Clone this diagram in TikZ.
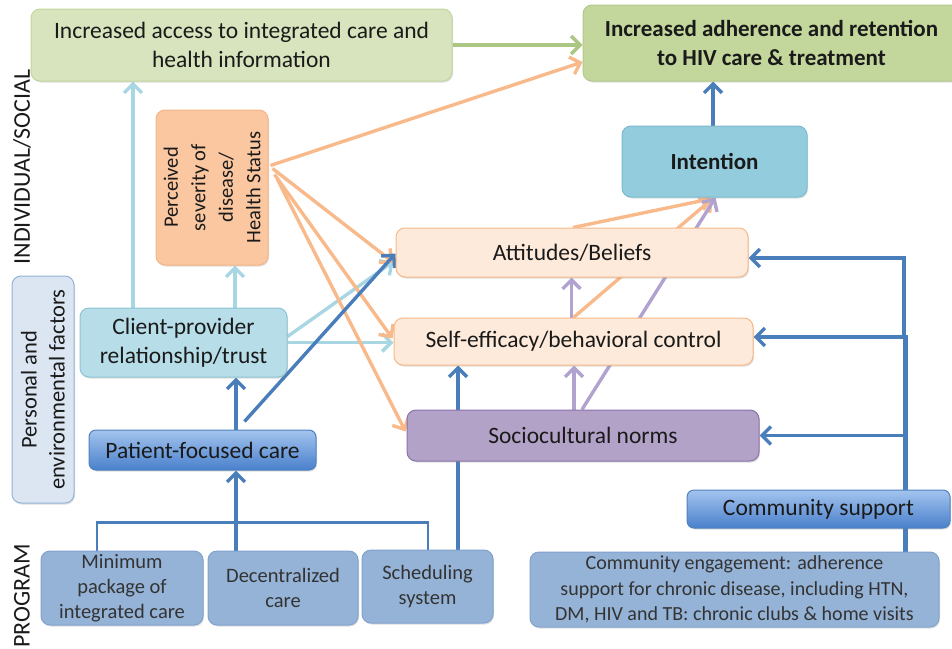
\documentclass[tikz,border=0pt]{standalone}
\usepackage{fontspec}
\setmainfont{Carlito}
\usetikzlibrary{arrows.meta,calc,shadows,backgrounds}
\definecolor{txt}{HTML}{1A1A1A}
\definecolor{accf}{HTML}{D7E4BD}
\definecolor{accd}{HTML}{C2D69E}
\definecolor{adhf}{HTML}{C3D69B}
\definecolor{adhd}{HTML}{B3C98C}
\definecolor{perf}{HTML}{FBC7A0}
\definecolor{perd}{HTML}{F5B488}
\definecolor{intf}{HTML}{93CDDD}
\definecolor{intd}{HTML}{7DBACD}
\definecolor{attf}{HTML}{FDEADA}
\definecolor{attd}{HTML}{F8B888}
\definecolor{socf}{HTML}{B3A2C7}
\definecolor{socd}{HTML}{8A72AA}
\definecolor{clif}{HTML}{B7DEE8}
\definecolor{clid}{HTML}{8CC3D5}
\definecolor{pef}{HTML}{DCE6F2}
\definecolor{ped}{HTML}{95B3D7}
\definecolor{prgf}{HTML}{95B3D7}
\definecolor{prgd}{HTML}{80A2CF}
\definecolor{gtop}{HTML}{A3C4EE}
\definecolor{gbot}{HTML}{4A80CC}
\definecolor{gdraw}{HTML}{4F81BD}
\definecolor{lbc}{HTML}{A8D6E3}
\definecolor{dbc}{HTML}{4A7EBB}
\definecolor{orc}{HTML}{F8BA8A}
\definecolor{puc}{HTML}{B1A2D0}
\definecolor{grc}{HTML}{ABC783}
\begin{document}
\begin{tikzpicture}[x=1pt,y=-1pt,
  box/.style={draw, line width=1pt, rounded corners=9pt, align=center, inner sep=1pt, text=txt,
    font=\fontsize{23.5}{29}\selectfont,
    drop shadow={shadow xshift=1pt, shadow yshift=-1.5pt, opacity=0.25}},
  prog/.style={box, fill=prgf, draw=prgd, text=black!80, font=\fontsize{20.5}{25}\selectfont},
  grad/.style={box, top color=gtop, bottom color=gbot, draw=gdraw, rounded corners=7pt},
  bfont/.style={font=\fontsize{23}{28.5}\selectfont\bfseries},
  lab/.style={rotate=90, text=txt, font=\fontsize{24}{28}\selectfont},
  arr/.style={line width=3.4pt, -{Straight Barb[length=9pt,width=18pt]}},
  lb/.style={arr, draw=lbc},
  db/.style={arr, draw=dbc},
  oa/.style={arr, draw=orc},
  pa/.style={arr, draw=puc},
  ga/.style={arr, draw=grc}]
\useasboundingbox (0,0) rectangle (952,648);

% nodes
\node[box, fill=accf, draw=accd, minimum width=421pt, minimum height=72pt] (access) at (241.5,45)
  {Increased access to integrated care and\\health information};
\node[box, bfont, fill=adhf, draw=adhd, minimum width=377pt, minimum height=76pt] (adh) at (771.5,43)
  {Increased adherence and retention\\to HIV care \& treatment};
\node[box, rotate=90, fill=perf, draw=perd, minimum width=155pt, minimum height=112pt,
  font=\fontsize{20.5}{27.5}\selectfont] (perceived) at (212,187.5)
  {Perceived\\severity of\\disease/\\Health Status};
\node[box, bfont, fill=intf, draw=intd, minimum width=185pt, minimum height=71pt] (intention) at (714.5,161.5) {Intention};
\node[box, fill=attf, draw=attd, minimum width=352pt, minimum height=49pt] (att) at (572,252.5) {Attitudes/Beliefs};
\node[box, fill=attf, draw=attd, minimum width=359pt, minimum height=47pt] (self) at (573.5,341.5) {Self-efficacy/behavioral control};
\node[box, fill=socf, draw=socd, minimum width=352pt, minimum height=51pt] (socio) at (583,435.5) {Sociocultural norms};
\node[box, fill=clif, draw=clid, minimum width=207pt, minimum height=69pt] (client) at (183.5,342.5) {Client-provider\\relationship/trust};
\node[grad, minimum width=227pt, minimum height=40pt] (patient) at (202.5,450) {Patient-focused care};
\node[box, rotate=90, fill=pef, draw=ped, minimum width=227pt, minimum height=62pt,
  font=\fontsize{22.5}{28}\selectfont] (personal) at (43,389.5) {Personal and\\environmental factors};
\node[prog, minimum width=162pt, minimum height=74pt] (minimum) at (122,588) {Minimum\\package of\\integrated care};
\node[prog, minimum width=150pt, minimum height=74pt] (decent) at (283,588) {Decentralized\\care};
\node[prog, minimum width=131pt, minimum height=73pt] (sched) at (427.5,586.5) {Scheduling\\system};
\node[prog, minimum width=409pt, minimum height=75pt, font=\fontsize{20}{25.5}\selectfont] (commeng) at (734.5,589.5)
  {Community engagement: adherence\\support for chronic disease, including HTN,\\DM, HIV and TB: chronic clubs \& home visits};
\node[grad, minimum width=263pt, minimum height=38pt] (commsup) at (818.5,509) {Community support};
\node[lab] (indiv) at (22,167) {INDIVIDUAL/SOCIAL};
\node[lab] (program) at (22,596) {PROGRAM};

% helper coordinates
\coordinate (c1) at ($(client.north)+(-50.5,0)$);
\coordinate (c2) at ($(client.north)+(51.5,0)$);
\coordinate (c6) at ($(decent.north)+(-47,0)$);
\coordinate (c7) at ($(patient.north)+(33.5,0)$);
\coordinate (c8) at ($(sched.north)+(30.5,0)$);
\coordinate (c9) at ($(intention.north)+(-1.5,0)$);
\coordinate (c19) at ($(socio.north)+(-9,0)$);
\coordinate (c20) at ($(self.north)+(-2,0)$);
\coordinate (bL) at ($(minimum.north)+(-25,0)$);
\coordinate (bR) at ($(sched.north)+(0.5,0)$);
\coordinate (t0) at ($(commeng.north)+(170.5,0)$);
\coordinate (ae) at ($(att.east)+(0,5.5)$);
\coordinate (se) at ($(self.east)+(0,-4.5)$);

\begin{pgfonlayer}{background}
% light blue
\draw[lb] (c1) -- (c1 |- access.south);
\draw[lb] (c2) -- (c2 |- perceived.west);
\draw[lb] (client.east) -- (client.east -| self.west);
\draw[lb] ($(client.east)+(0,-6)$) -- ($(att.west)+(-2,9)$);
% orange
\draw[oa] ($(perceived.south)+(2,-22)$) -- ($(adh.west)+(0,19)$);
\draw[oa] ($(perceived.south)+(4,-19)$) -- ($(att.west)+(-2,10)$);
\draw[oa] ($(perceived.south)+(6,-13)$) -- ($(self.west)+(-1,-3)$);
\draw[oa] ($(perceived.south)+(9,-8)$) -- ($(socio.west)+(-1,-4)$);
\draw[oa] ($(att.north)+(1,0)$) -- ($(intention.south)+(-2,1)$);
\draw[oa] (self.north) -- ($(intention.south)+(-2,1)$);
% green
\draw[ga] (access.east) -- (access.east -| adh.west);
% dark blue
\draw[db] ($(patient.north)+(42,-8)$) -- ($(att.west)+(0,1)$);
\draw[db, line width=2.4pt, -] (bL) -- ++(0,-28) -| (bR);
\draw[db] (c6) -- (c6 |- patient.south);
\draw[db] (c7) -- (c7 |- client.south);
\draw[db] (c8) -- (c8 |- self.south);
\draw[db] (c9) -- (c9 |- adh.south);
\draw[db, line width=5pt, -] (t0) -- ($(t0 |- se)+(0,-2)$);
\draw[db] ($(t0 |- se)+(-1,0)$) |- (ae);
\draw[db] ($(t0 |- se)+(1,0)$) -- (se);
\draw[db] (t0 |- socio.east) -- (socio.east);
% purple
\draw[pa] ($(socio.north)+(-1,0)$) -- ($(intention.south)+(1,0)$);
\draw[pa] (c19) -- (c19 |- self.south);
\draw[pa] (c20) -- (c20 |- att.south);
\end{pgfonlayer}
\end{tikzpicture}
\end{document}
